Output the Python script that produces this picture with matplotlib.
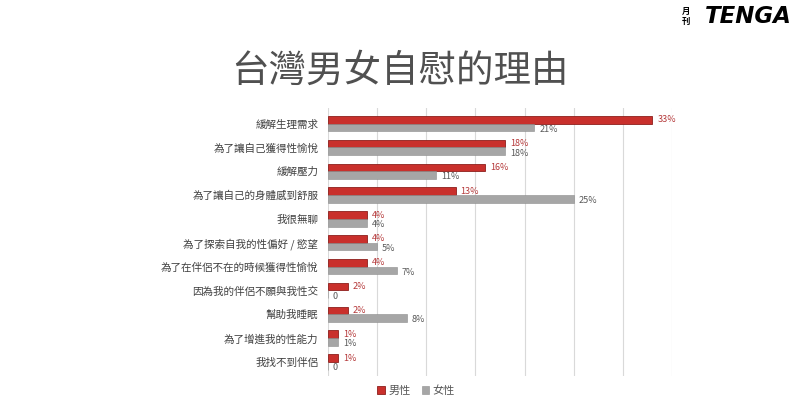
import matplotlib
matplotlib.use("Agg")
import matplotlib.pyplot as plt
import numpy as np

plt.rcParams['font.family'] = ['Noto Sans CJK TC', 'DejaVu Sans']

categories = ["緩解生理需求", "為了讓自己獲得性愉悅", "緩解壓力", "為了讓自己的身體感到舒服",
              "我很無聊", "為了探索自我的性偏好 / 慾望", "為了在伴侶不在的時候獲得性愉悅",
              "因為我的伴侶不願與我性交", "幫助我睡眠", "為了增進我的性能力", "我找不到伴侶"]
male = [33, 18, 16, 13, 4, 4, 4, 2, 2, 1, 1]
female = [21, 18, 11, 25, 4, 5, 7, 0, 8, 1, 0]
series_names = ["男性", "女性"]

red = "#c9302c"
red_edge = "#8e1f1c"
gray = "#a6a6a6"
red_text = "#b5393a"
gray_text = "#595959"

fig = plt.figure(figsize=(8, 3.99), dpi=100)
ax = fig.add_axes([0.41, 0.0576, 0.43, 0.6717])

y = np.arange(len(categories))
h = 0.32
off = 0.16
ax.barh(y - off, male, height=h, color=red, edgecolor=red_edge, linewidth=0.6, label=series_names[0], zorder=3)
ax.barh(y + off, female, height=h, color=gray, edgecolor="#8c8c8c", linewidth=0.4, label=series_names[1], zorder=3)

for yi, v in zip(y, male):
    ax.text(v + 0.5, yi - off, f"{v}%", va="center", ha="left", fontsize=6.5, color=red_text)
for yi, v in zip(y, female):
    lab = "0" if v == 0 else f"{v}%"
    ax.text(v + 0.5, yi + off + 0.08, lab, va="center", ha="left", fontsize=6.5, color=gray_text)

ax.set_xlim(0, 35)
ax.set_ylim(10.59, -0.65)
ax.set_xticks(np.arange(0, 36, 5))
ax.xaxis.grid(True, color="#d9d9d9", linewidth=0.8, zorder=0)
ax.tick_params(axis="x", length=0, labelbottom=False)
ax.tick_params(axis="y", length=0, pad=7)
ax.set_yticks(y)
ax.set_yticklabels(categories, fontsize=7.6, color="#404040")
for s in ax.spines.values():
    s.set_visible(False)

fig.text(0.5, 0.822, "台灣男女自慰的理由", ha="center", va="center", fontsize=27, color="#505050")

# logo
fig.text(0.881, 0.959, "TENGA", ha="left", va="center", fontsize=16.5, fontweight="bold",
         style="italic", color="black", family=["DejaVu Sans"])
fig.text(0.857, 0.972, "月", ha="center", va="center", fontsize=6, fontweight="bold", color="black")
fig.text(0.857, 0.945, "刊", ha="center", va="center", fontsize=6, fontweight="bold", color="black")

leg = fig.legend(loc="center", bbox_to_anchor=(0.52, 0.022), ncol=2, frameon=False,
                 fontsize=8, handlelength=0.7, handleheight=0.7, handletextpad=0.3,
                 columnspacing=1.0, labelcolor="#595959")

fig.savefig("out.png", dpi=100, facecolor="white")
